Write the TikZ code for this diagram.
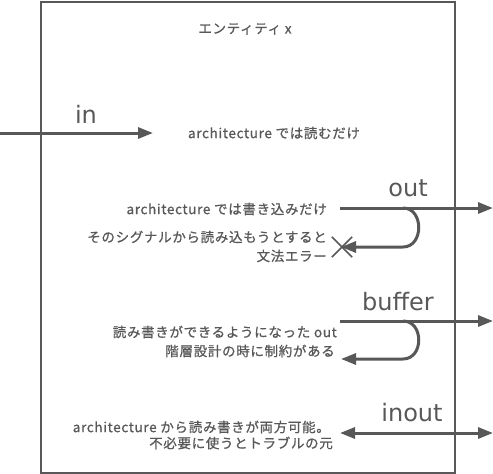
\documentclass[tikz,border=0pt]{standalone}
\usepackage{fontspec}
\setmainfont{Noto Sans CJK JP}
\newfontfamily\jpfont[LetterSpace=5,FakeBold=0.8]{Noto Sans CJK JP}
\newfontfamily\labfont{DejaVu Sans}
\usetikzlibrary{arrows.meta}
\definecolor{ink}{HTML}{585858}
\tikzset{
  arr/.style={draw=ink, line width=3pt, -{Triangle[length=15pt,width=11pt]}},
  darr/.style={draw=ink, line width=3pt, {Triangle[length=15pt,width=11pt]}-{Triangle[length=15pt,width=11pt]}},
  txt/.style={text=ink, font=\jpfont\fontsize{13.5}{15}\selectfont, inner sep=0pt},
  rtxt/.style={txt, anchor=east, align=right},
  lab/.style={text=ink, font=\labfont\fontsize{24}{26}\selectfont, inner sep=0pt},
  xmark/.style={draw=ink, line width=1.5pt}
}
\begin{document}
\begin{tikzpicture}[x=1pt,y=-1pt]
\useasboundingbox (0,0) rectangle (493,474);
\node[draw=ink, line width=1.5pt, minimum width=414pt, minimum height=471pt, anchor=north west, inner sep=0pt] (box) at (40,1) {};
\node[txt] (title) at (245,29) {エンティティ x};
% in
\coordinate (inA) at (0,133);
\coordinate (inB) at (153,133);
\node[lab] (inlab) at (86,114) {in};
\draw[arr] (inA) -- (inB);
\node[txt] (intxt) at (274,133) {architecture では読むだけ};
% out
\coordinate (oA) at (340,208);
\coordinate (oB) at (493,208);
\coordinate (oC) at (403,208);
\coordinate (oD) at (403,247);
\coordinate (oE) at (341,247);
\node[lab] (outlab) at (408,188) {out};
\draw[arr] (oA) -- (oB);
\draw[arr] (oC) .. controls (424,208) and (424,247) .. (oD) -- (oE);
\node[rtxt] (otxt1) at (327,209) {architecture では書き込みだけ};
\node[rtxt] (otxt2) at (327,237) {そのシグナルから読み込もうとすると};
\node[rtxt] (otxt3) at (327,256) {文法エラー};
\node[minimum size=20pt, inner sep=0pt] (xm) at (342,247) {};
\draw[xmark] (xm.north west) -- (xm.south east);
\draw[xmark] (xm.south west) -- (xm.north east);
% buffer
\coordinate (bA) at (340,321);
\coordinate (bB) at (493,321);
\coordinate (bC) at (403,321);
\coordinate (bD) at (403,359);
\coordinate (bE) at (341,359);
\node[lab] (buflab) at (398,302) {buffer};
\draw[arr] (bA) -- (bB);
\draw[arr] (bC) .. controls (424,321) and (424,359) .. (bD) -- (bE);
\node[rtxt] (btxt1) at (337,332) {読み書きができるようになった out};
\node[rtxt] (btxt2) at (335,351) {階層設計の時に制約がある};
% inout
\coordinate (ioA) at (340,433);
\coordinate (ioB) at (493,433);
\node[lab] (iolab) at (412,413) {inout};
\draw[darr] (ioA) -- (ioB);
\node[rtxt] (iotxt1) at (330,427) {architecture から読み書きが両方可能。};
\node[rtxt] (iotxt2) at (333,443) {不必要に使うとトラブルの元};
\end{tikzpicture}
\end{document}
